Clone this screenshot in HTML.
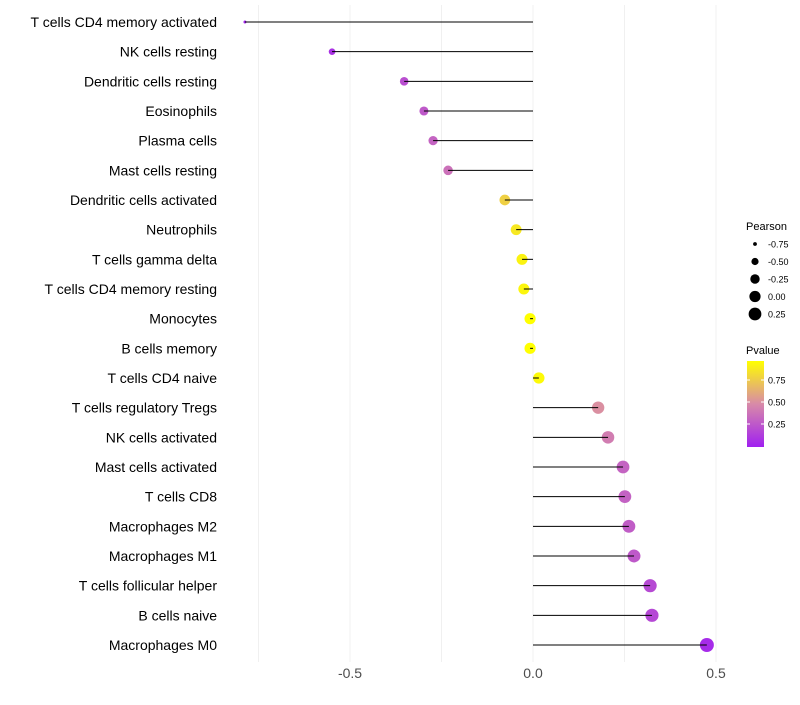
<!DOCTYPE html>
<html><head><meta charset="utf-8"><style>
body{margin:0;background:#fff;width:800px;height:700px;overflow:hidden;font-family:"Liberation Sans",sans-serif}
</style></head><body>
<svg id="chart" width="800" height="700">
<defs><linearGradient id="pg" x1="0" y1="1" x2="0" y2="0">
<stop offset="0" stop-color="#A020F0"/><stop offset="0.5" stop-color="#D88AA8"/><stop offset="1" stop-color="#FFFF00"/>
</linearGradient></defs>
<g id="grid"></g><g id="marks"></g><g id="labels"></g><g id="xticks"></g>
<g id="legend"></g>
</svg>
<script>
const categories=["T cells CD4 memory activated","NK cells resting","Dendritic cells resting","Eosinophils","Plasma cells","Mast cells resting","Dendritic cells activated","Neutrophils","T cells gamma delta","T cells CD4 memory resting","Monocytes","B cells memory","T cells CD4 naive","T cells regulatory  Tregs","NK cells activated","Mast cells activated","T cells CD8","Macrophages M2","Macrophages M1","T cells follicular helper","B cells naive","Macrophages M0"];
const pearson=[-0.787,-0.549,-0.352,-0.298,-0.273,-0.232,-0.077,-0.046,-0.030,-0.025,-0.008,-0.008,0.016,0.178,0.205,0.246,0.251,0.262,0.276,0.320,0.325,0.475];
const pvalues=[0.02,0.08,0.22,0.27,0.32,0.38,0.80,0.90,0.95,0.96,1.0,1.0,0.98,0.52,0.44,0.32,0.31,0.29,0.27,0.20,0.19,0.05];
const xTicks=[-0.5,0,0.5];
const xTickLabels=["-0.5","0.0","0.5"];
const sizeLegend=[-0.75,-0.5,-0.25,0,0.25];
const colorTicks=[0.25,0.5,0.75];
const NS="http://www.w3.org/2000/svg";
const x=v=>533+v*366;
const y=i=>22+i*(623/21);
const pmin=-0.787,pmax=0.475;
function r(v){const t=Math.max(0,(v-pmin)/(pmax-pmin));return Math.sqrt(2.25+(49-2.25)*t);}
function lerp(a,b,t){return a.map((c,k)=>Math.round(c+(b[k]-c)*t));}
function col(p){const A=[160,32,240],M=[216,138,168],B=[255,255,0];
 const c=p<0.5?lerp(A,M,p/0.5):lerp(M,B,(p-0.5)/0.5);return `rgb(${c.join(',')})`;}
function mk(tag,attrs,parent,text){const e=document.createElementNS(NS,tag);for(const k in attrs)e.setAttribute(k,attrs[k]);if(text!==undefined)e.textContent=text;parent.appendChild(e);return e;}
const grid=document.getElementById('grid'),marks=document.getElementById('marks'),labels=document.getElementById('labels'),xt=document.getElementById('xticks'),lg=document.getElementById('legend');
[-0.75,-0.25,0.25].concat(xTicks).forEach(v=>{const l=mk('line',{x1:x(v),x2:x(v),y1:5,y2:662,stroke:'#f0f0f0','stroke-width':1},grid);
});
categories.forEach((c,i)=>{
 const p=mk('circle',{cx:x(pearson[i]),cy:y(i),r:r(pearson[i]),fill:col(pvalues[i])},marks);
 
 const l=mk('line',{x1:x(0),x2:x(pearson[i]),y1:y(i),y2:y(i),stroke:'#000','stroke-width':1},marks);
 
 const t=mk('text',{x:217,y:y(i)+5,'text-anchor':'end','font-size':14,fill:'#000'},labels,c);
 
});
xTicks.forEach((v,i)=>{const t=mk('text',{x:x(v),y:678,'text-anchor':'middle','font-size':14,fill:'#4d4d4d'},xt,xTickLabels[i]);
});
let t=mk('text',{x:746,y:230,'font-size':11},lg,'Pearson');
sizeLegend.forEach((v,i)=>{const cy=244+i*17.5;
 const c=mk('circle',{cx:755,cy:cy,r:r(v),fill:'#000'},lg);
 const tt=mk('text',{x:768,y:cy+3.5,'font-size':9},lg,v.toFixed(2));});
t=mk('text',{x:746,y:354,'font-size':11},lg,'Pvalue');
const bar=mk('rect',{x:747,y:361,width:17,height:86,fill:'url(#pg)'},lg);
colorTicks.forEach(v=>{const cy=446-v*88;
 mk('line',{x1:747,x2:750,y1:cy,y2:cy,stroke:'#fff'},lg);mk('line',{x1:761,x2:764,y1:cy,y2:cy,stroke:'#fff'},lg);
 const tt=mk('text',{x:768,y:cy+3.5,'font-size':9},lg,v.toFixed(2));});
</script>
</body></html>
